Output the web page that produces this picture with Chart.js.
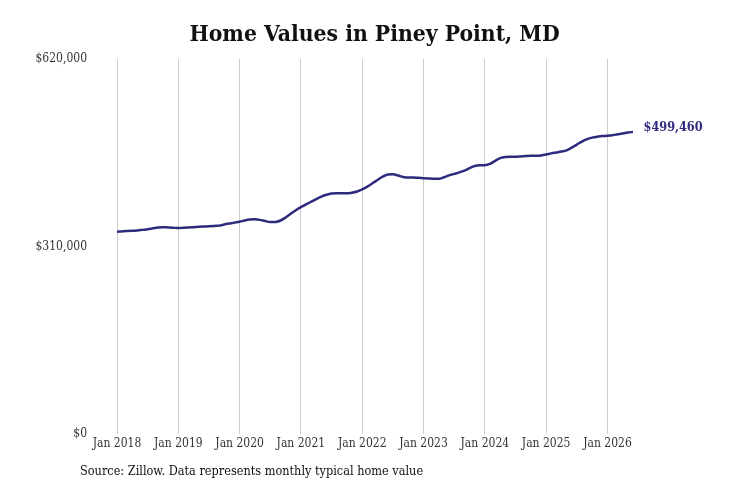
<!DOCTYPE html>
<html>
<head>
<meta charset="utf-8">
<script src="https://cdn.jsdelivr.net/npm/chart.js@4.4.0/dist/chart.umd.min.js"></script>
<style>
  html, body { margin: 0; padding: 0; background: #ffffff; }
  #wrap { width: 731px; height: 487px; position: relative; }
</style>
</head>
<body>
<div id="wrap"><canvas id="c" width="731" height="487"></canvas></div>
<script>
const chartTitle = 'Home Values in Piney Point, MD';
const sourceNote = 'Source: Zillow. Data represents monthly typical home value';
const monthNames = ['Jan','Feb','Mar','Apr','May','Jun','Jul','Aug','Sep','Oct','Nov','Dec'];
const years = [2018, 2019, 2020, 2021, 2022, 2023, 2024, 2025, 2026];
const yTickValues = [0, 310000, 620000];
const yTickLabels = ['$0', '$310,000', '$620,000'];
const endLabel = '$499,460';

const values2018 = [334500, 335000, 335500, 336000, 336500, 337500, 338500, 340000, 341500, 342000, 341500, 341000];
const values2019 = [340500, 341000, 341500, 342000, 342500, 343000, 343500, 344000, 344500, 346500, 348000, 349500];
const values2020 = [351000, 353000, 354500, 355000, 354000, 352000, 350500, 350500, 353000, 358000, 364000, 370000];
const values2021 = [375000, 379500, 384000, 388500, 392500, 395500, 397500, 398000, 398000, 398000, 399000, 401000];
const values2022 = [404500, 409000, 414500, 420000, 425500, 429000, 429500, 427500, 425000, 424000, 424000, 423500];
const values2023 = [423000, 422500, 422000, 422000, 424500, 427500, 430000, 432500, 435500, 439500, 443000, 444500];
const values2024 = [444500, 446500, 451500, 456000, 458000, 458500, 458500, 459000, 459500, 460000, 460000, 460500];
const values2025 = [462000, 464000, 465500, 467000, 469000, 473500, 478500, 483500, 487500, 490000, 491500, 492500];
const values2026 = [493000, 494000, 495500, 497000, 498300, 499460];

const homeValues = [].concat(values2018, values2019, values2020, values2021, values2022,
                             values2023, values2024, values2025, values2026);

const categories = [];
for (const y of years) {
  for (const m of monthNames) {
    if (categories.length < homeValues.length) categories.push(m + ' ' + y);
  }
}

const LINE_COLOR = '#2e2a7e';
const FONT_FAMILY = '"DejaVu Serif Condensed", "DejaVu Serif", serif';

const textPlugin = {
  id: 'textPlugin',
  afterDraw(chart) {
    const ctx = chart.ctx;
    ctx.save();
    ctx.fillStyle = '#111111';
    ctx.font = 'bold 22.7px ' + FONT_FAMILY;
    ctx.textAlign = 'center';
    ctx.textBaseline = 'middle';
    ctx.fillText(chartTitle, 374.5, 35);

    ctx.font = '12.6px ' + FONT_FAMILY;
    ctx.textAlign = 'left';
    ctx.fillStyle = '#111111';
    ctx.fillText(sourceNote, 80, 472);

    const xs = chart.scales.x, ys = chart.scales.y;
    const li = homeValues.length - 1;
    const px = xs.getPixelForValue(li);
    const py = ys.getPixelForValue(homeValues[li]);
    ctx.font = 'bold 12.6px ' + FONT_FAMILY;
    ctx.fillStyle = LINE_COLOR;
    ctx.fillText(endLabel, px + 10.5, py - 4);
    ctx.restore();
  }
};

new Chart(document.getElementById('c'), {
  type: 'line',
  data: {
    labels: categories,
    datasets: [{
      data: homeValues,
      borderColor: LINE_COLOR,
      borderWidth: 2.5,
      pointRadius: 0,
      tension: 0.4,
      cubicInterpolationMode: 'monotone',
      fill: false
    }]
  },
  options: {
    responsive: false,
    animation: false,
    devicePixelRatio: 1,
    layout: { padding: { left: 0, right: 98, top: 59, bottom: 33 } },
    plugins: {
      legend: { display: false },
      title: { display: false },
      tooltip: { enabled: false }
    },
    scales: {
      x: {
        type: 'category',
        offset: false,
        border: { display: false },
        grid: {
          drawTicks: false,
          lineWidth: 1,
          color: (c) => (c.index !== undefined && c.index % 12 === 0) ? '#cccccc' : 'rgba(0,0,0,0)'
        },
        ticks: {
          autoSkip: false,
          maxRotation: 0,
          minRotation: 0,
          padding: 3,
          color: '#333333',
          font: { family: FONT_FAMILY, size: 12 },
          callback: function (val, idx) {
            const lab = categories[idx];
            return lab.startsWith('Jan') ? lab : '';
          }
        },
        afterFit: (s) => { s.height = 20; }
      },
      y: {
        min: 0,
        max: 620000,
        border: { display: false },
        grid: { display: false, drawTicks: false },
        afterBuildTicks: (s) => { s.ticks = yTickValues.map(v => ({ value: v })); },
        ticks: {
          padding: 30,
          color: '#333333',
          font: { family: FONT_FAMILY, size: 12, lineHeight: 1.5 },
          callback: (v) => {
            const i = yTickValues.indexOf(v);
            return i >= 0 ? yTickLabels[i] : '';
          }
        },
        afterFit: (s) => { s.width = 117; }
      }
    }
  },
  plugins: [textPlugin]
});
</script>
</body>
</html>
